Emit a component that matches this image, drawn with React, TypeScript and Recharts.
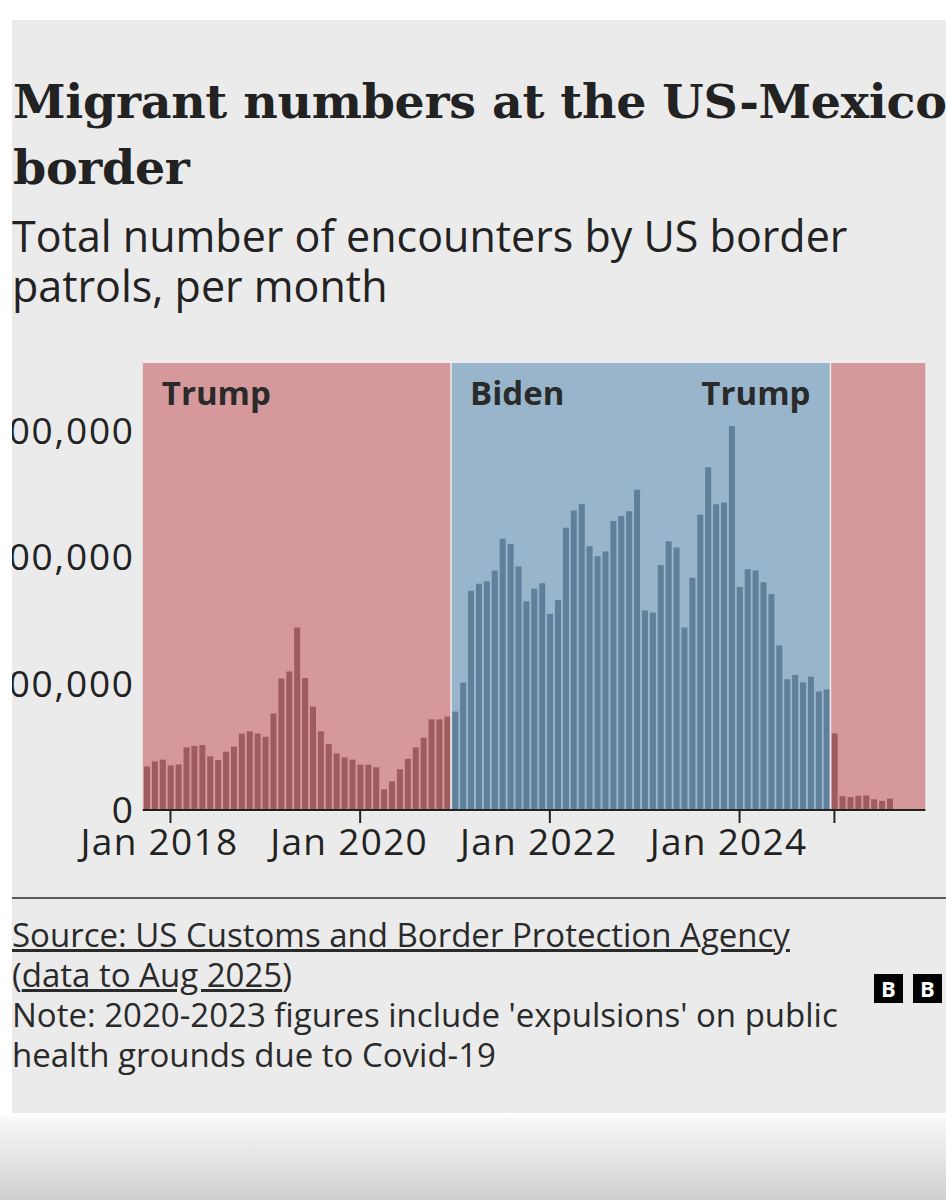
import { Bar, BarChart, Cell, ReferenceArea, ReferenceLine, XAxis, YAxis } from "recharts";

// Monthly encounters at the southwest border
const enc2017 = [34400, 38500, 39900]; // Oct-Dec
const enc2018 = [35300, 36100, 49600, 50700, 51500, 42500, 39600, 46200, 50200, 60500, 62300, 60500];
const enc2019 = [58100, 76500, 104200, 109600, 144500, 104500, 81900, 62300, 52300, 44800, 41700, 39900];
const enc2020 = [35900, 35900, 33800, 16300, 22700, 32200, 40600, 49600, 57300, 71800, 71800, 74000];
const enc2021 = [77900, 100900, 173700, 179200, 181200, 189600, 214800, 210700, 192800, 165300, 175200, 179500];
const enc2022 = [155200, 166300, 223600, 237100, 242400, 208800, 200900, 204800, 228900, 232800, 236500, 253700];
const enc2023 = [157900, 156500, 194000, 212800, 207800, 144600, 184000, 233900, 271400, 242100, 243600, 304100];
const enc2024 = [176600, 190600, 189600, 180300, 171100, 130200, 103500, 106900, 101100, 105600, 93800, 95500];
const enc2025 = [60700, 11000, 10200, 11300, 11500, 8500, 7200, 9000]; // Jan-Aug

const MONTH_NAMES = ["Jan", "Feb", "Mar", "Apr", "May", "Jun", "Jul", "Aug", "Sep", "Oct", "Nov", "Dec"];

const yearSeries: [number, number, number[]][] = [
    [2017, 9, enc2017],
    [2018, 0, enc2018],
    [2019, 0, enc2019],
    [2020, 0, enc2020],
    [2021, 0, enc2021],
    [2022, 0, enc2022],
    [2023, 0, enc2023],
    [2024, 0, enc2024],
    [2025, 0, enc2025],
];

const X_TICKS = ["Jan 2018", "Jan 2020", "Jan 2022", "Jan 2024", "Jan 2025"];
const X_TICK_LABELS: Record<string, string> = {
    "Jan 2018": "Jan 2018",
    "Jan 2020": "Jan 2020",
    "Jan 2022": "Jan 2022",
    "Jan 2024": "Jan 2024",
    "Jan 2025": "",
};
const Y_TICKS = [0, 100000, 200000, 300000];

const TERMS = [
    { name: "Trump", from: "Oct 2017", to: "Dec 2020", side: "start" },
    { name: "Biden", from: "Jan 2021", to: "Dec 2024", side: "start" },
    { name: "Trump", from: "Jan 2025", to: "Dec 2025", side: "before" },
];

const PINK = "#d5999b";
const BLUE = "#98b5cc";
const RED_BAR = "#9e5c5e";
const BLUE_BAR = "#5f7f9a";
const INK = "#222222";
const SANS = "'Open Sans', 'Noto Sans', sans-serif";

type Row = { month: string; value: number | null };

const rows: Row[] = [];
yearSeries.forEach(([year, startMonth, values]) => {
    for (let m = startMonth; m < 12; m++) {
        const v = values[m - startMonth];
        rows.push({ month: `${MONTH_NAMES[m]} ${year}`, value: v === undefined ? null : v });
    }
});

const bidenStart = rows.findIndex((r) => r.month === "Jan 2021");
const trump2Start = rows.findIndex((r) => r.month === "Jan 2025");

const XTick = (props: any) => {
    const { x, y, payload } = props;
    const label = X_TICK_LABELS[payload.value] ?? "";
    return (
        <text
            x={x - 11}
            y={y + 30}
            textAnchor="middle"
            fill={INK}
            fontSize={37}
            letterSpacing={1.3}
            fontFamily={SANS}
        >
            {label}
        </text>
    );
};

const YTick = (props: any) => {
    const { x, y, payload } = props;
    return (
        <text
            x={x + 2}
            y={y}
            dy={13}
            textAnchor="end"
            fill={INK}
            fontSize={37}
            letterSpacing={1.8}
            fontFamily={SANS}
        >
            {Number(payload.value).toLocaleString("en-US")}
        </text>
    );
};

const termLabel = (name: string, side: string) => (p: any) => {
    const vb = p.viewBox || {};
    const before = side === "before";
    return (
        <text
            x={before ? vb.x - 20 : vb.x + 19}
            y={vb.y + 42}
            textAnchor={before ? "end" : "start"}
            fill="#2a2a2a"
            fontSize={33}
            fontWeight={700}
            fontFamily={SANS}
        >
            {name}
        </text>
    );
};

export default function App() {
    return (
        <div
            style={{
                position: "absolute",
                left: 0,
                top: 0,
                width: 946,
                height: 1200,
                overflow: "hidden",
                background: "linear-gradient(to bottom, #ffffff 0px, #ffffff 1113px, #f7f7f7 1120px, #d0d0d0 1200px)",
            }}
        >
            <div
                style={{
                    position: "absolute",
                    left: 12,
                    top: 20,
                    width: 934,
                    height: 1093,
                    background: "#ebebeb",
                    overflow: "hidden",
                    color: INK,
                }}
            >
                <div
                    style={{
                        position: "absolute",
                        left: 1,
                        top: 48,
                        whiteSpace: "nowrap",
                        fontFamily: "'DejaVu Serif', serif",
                        fontWeight: 700,
                        fontSize: 47.5,
                        lineHeight: "66px",
                        letterSpacing: -0.3,
                    }}
                >
                    Migrant numbers at the US-Mexico
                    <br />
                    border
                </div>
                <div
                    style={{
                        position: "absolute",
                        left: 0,
                        top: 191,
                        whiteSpace: "nowrap",
                        fontFamily: SANS,
                        fontSize: 43,
                        lineHeight: "50px",
                    }}
                >
                    Total number of encounters by US border
                    <br />
                    patrols, per month
                </div>

                <div style={{ position: "absolute", left: 0, top: 300 }}>
                    <BarChart
                        width={934}
                        height={580}
                        data={rows}
                        margin={{ top: 43, right: 20.7, bottom: 0, left: 0 }}
                        barCategoryGap={1.2}
                    >
                        {TERMS.map((t, i) => (
                            <ReferenceArea
                                key={i}
                                x1={t.from}
                                x2={t.to}
                                fill={t.name === "Biden" ? BLUE : PINK}
                                fillOpacity={1}
                                stroke="none"
                                label={termLabel(t.name, t.side)}
                            />
                        ))}
                        <ReferenceLine x="Jan 2021" position="start" stroke="#ececec" strokeWidth={1.5} />
                        <ReferenceLine x="Jan 2025" position="start" stroke="#ececec" strokeWidth={1.5} />
                        <XAxis
                            dataKey="month"
                            ticks={X_TICKS}
                            interval={0}
                            height={90}
                            tickSize={13}
                            tickMargin={2}
                            tickLine={{ stroke: INK, strokeWidth: 2 }}
                            axisLine={{ stroke: INK, strokeWidth: 2 }}
                            tick={<XTick />}
                        />
                        <YAxis
                            width={130.8}
                            domain={[0, 354000]}
                            ticks={Y_TICKS}
                            axisLine={false}
                            tickLine={false}
                            tickSize={0}
                            tickMargin={10}
                            tick={<YTick />}
                        />
                        <Bar dataKey="value" isAnimationActive={false}>
                            {rows.map((r, i) => (
                                <Cell
                                    key={r.month}
                                    fill={i >= bidenStart && i < trump2Start ? BLUE_BAR : RED_BAR}
                                />
                            ))}
                        </Bar>
                    </BarChart>
                </div>

                <div
                    style={{
                        position: "absolute",
                        left: 0,
                        top: 877,
                        width: 934,
                        height: 2,
                        background: "#5a5a5a",
                    }}
                />
                <div
                    style={{
                        position: "absolute",
                        left: 0,
                        top: 895,
                        whiteSpace: "nowrap",
                        fontFamily: SANS,
                        fontSize: 33,
                        lineHeight: "40px",
                        color: "#2a2a2a",
                    }}
                >
                    <span style={{ textDecoration: "underline" }}>Source: US Customs and Border Protection Agency</span>
                    <br />
                    (<span style={{ textDecoration: "underline" }}>data to Aug 2025</span>)
                    <br />
                    Note: 2020-2023 figures include 'expulsions' on public
                    <br />
                    health grounds due to Covid-19
                </div>
                <div style={{ position: "absolute", left: 862, top: 954, display: "flex", gap: 10 }}>
                    {["B", "B", "C"].map((c, i) => (
                        <div
                            key={i}
                            style={{
                                width: 29,
                                height: 29,
                                background: "#000",
                                color: "#fff",
                                fontFamily: SANS,
                                fontWeight: 700,
                                fontSize: 22,
                                lineHeight: "29px",
                                textAlign: "center",
                            }}
                        >
                            {c}
                        </div>
                    ))}
                </div>
            </div>
        </div>
    );
}
